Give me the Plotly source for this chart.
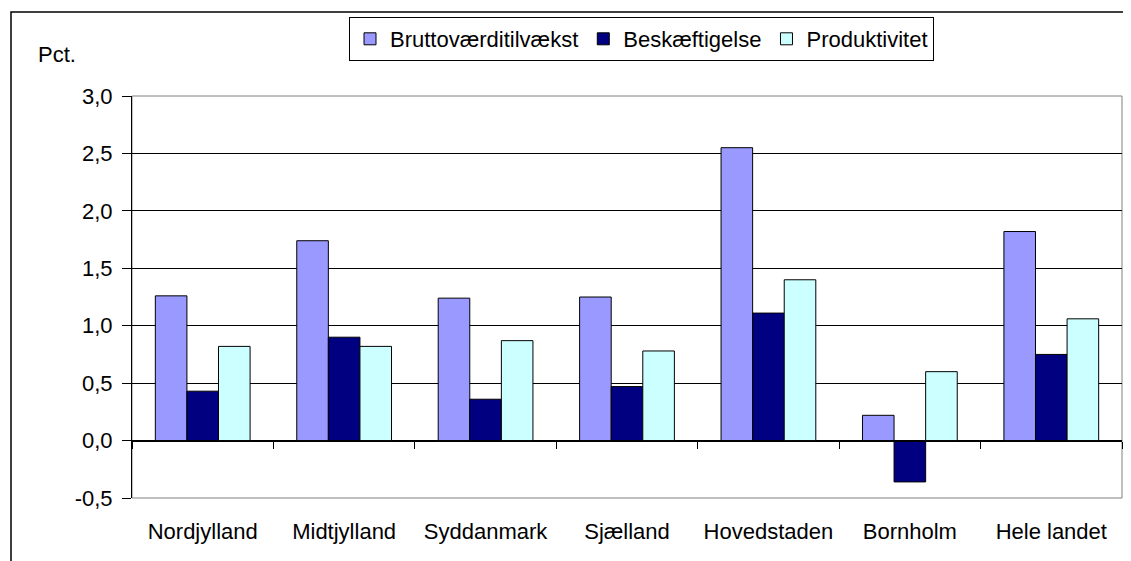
import plotly.graph_objects as go

categories = ["Nordjylland", "Midtjylland", "Syddanmark", "Sjælland",
              "Hovedstaden", "Bornholm", "Hele landet"]
brutto = [1.26, 1.74, 1.24, 1.25, 2.55, 0.22, 1.82]
beskaeft = [0.43, 0.90, 0.36, 0.47, 1.11, -0.36, 0.75]
produkt = [0.82, 0.82, 0.87, 0.78, 1.40, 0.60, 1.06]

series_names = ["Bruttoværditilvækst", "Beskæftigelse", "Produktivitet"]
colors = ["#9999FF", "#000080", "#CCFFFF"]

y_tickvals = [-0.5, 0.0, 0.5, 1.0, 1.5, 2.0, 2.5, 3.0]
y_ticktext = ["-0,5", "0,0", "0,5", "1,0", "1,5", "2,0", "2,5", "3,0"]

FONT = "Liberation Sans, Arial, sans-serif"
FS = 22
# the page body has an 8px default margin
OFF = 8
W, H = 1131 - OFF, 561 - OFF
ML, MT = 132 - OFF, 96 - OFF
MR = W - (1122 - OFF)
MB = H - (498 - OFF)
PW, PH = W - ML - MR, H - MT - MB


def px_x(page_x):
    return (page_x - OFF - ML) / PW


def px_y(page_y):
    return (H - MB - (page_y - OFF)) / PH


fig = go.Figure()
for name, vals, col in zip(series_names, [brutto, beskaeft, produkt], colors):
    fig.add_trace(go.Bar(
        x=categories, y=vals, name=name,
        marker=dict(color=col, line=dict(color="#000000", width=1)),
    ))

# invisible helper trace so the category axis drawn through zero gets rendered
fig.add_trace(go.Scatter(
    x=categories, y=[0] * len(categories), xaxis="x2", yaxis="y",
    mode="none", showlegend=False, hoverinfo="skip",
))

ymin, ymax = -0.5, 3.0
zero_pos = (0 - ymin) / (ymax - ymin)

fig.update_layout(
    width=W, height=H,
    margin=dict(l=ML, r=MR, t=MT, b=MB, pad=0),
    paper_bgcolor="white", plot_bgcolor="white",
    barmode="group", bargap=0.33, bargroupgap=0,
    font=dict(family=FONT, size=FS, color="#000000"),
    showlegend=True,
    legend=dict(
        orientation="h",
        x=px_x(349), xanchor="left",
        y=px_y(17), yanchor="top",
        bordercolor="#000000", borderwidth=1,
        bgcolor="white",
        font=dict(family=FONT, size=FS, color="#000000"),
        itemwidth=30,
        tracegroupgap=0,
    ),
    xaxis=dict(
        type="category",
        range=[-0.5, len(categories) - 0.5],
        showgrid=False, zeroline=False,
        showline=False,
        ticks="", ticklabelstandoff=18,
        tickfont=dict(family=FONT, size=FS, color="#000000"),
    ),
    xaxis2=dict(
        type="category",
        overlaying="x", anchor="free", position=zero_pos, side="bottom",
        range=[-0.5, len(categories) - 0.5],
        tickson="boundaries",
        ticks="outside", ticklen=7, tickcolor="#000000", tickwidth=1,
        showticklabels=False, showgrid=False, zeroline=False,
        showline=True, linecolor="#000000", linewidth=1,
    ),
    yaxis=dict(
        range=[ymin, ymax],
        tickvals=y_tickvals, ticktext=y_ticktext,
        ticks="outside", ticklen=9, tickcolor="#000000", tickwidth=1,
        ticklabelstandoff=5,
        showgrid=True, gridcolor="#000000", gridwidth=1,
        zeroline=True, zerolinecolor="#000000", zerolinewidth=1,
        showline=True, linecolor="#000000", linewidth=1,
        tickfont=dict(family=FONT, size=FS, color="#000000"),
    ),
    shapes=[
        # plot-area border (gray)
        dict(type="rect", xref="paper", yref="paper", x0=0, x1=1, y0=0, y1=1,
             line=dict(color="#808080", width=1), layer="below"),
        # outer chart frame (extends past the image right/bottom)
        dict(type="rect", xref="paper", yref="paper",
             x0=px_x(11), x1=px_x(1160),
             y0=px_y(600), y1=px_y(12),
             line=dict(color="#000000", width=1.5), layer="below"),
    ],
    annotations=[
        dict(text="Pct.", xref="paper", yref="paper",
             x=px_x(36), xanchor="left",
             y=px_y(55), yanchor="middle",
             showarrow=False, font=dict(family=FONT, size=FS, color="#000000")),
    ],
)

fig.write_html("out.html")
